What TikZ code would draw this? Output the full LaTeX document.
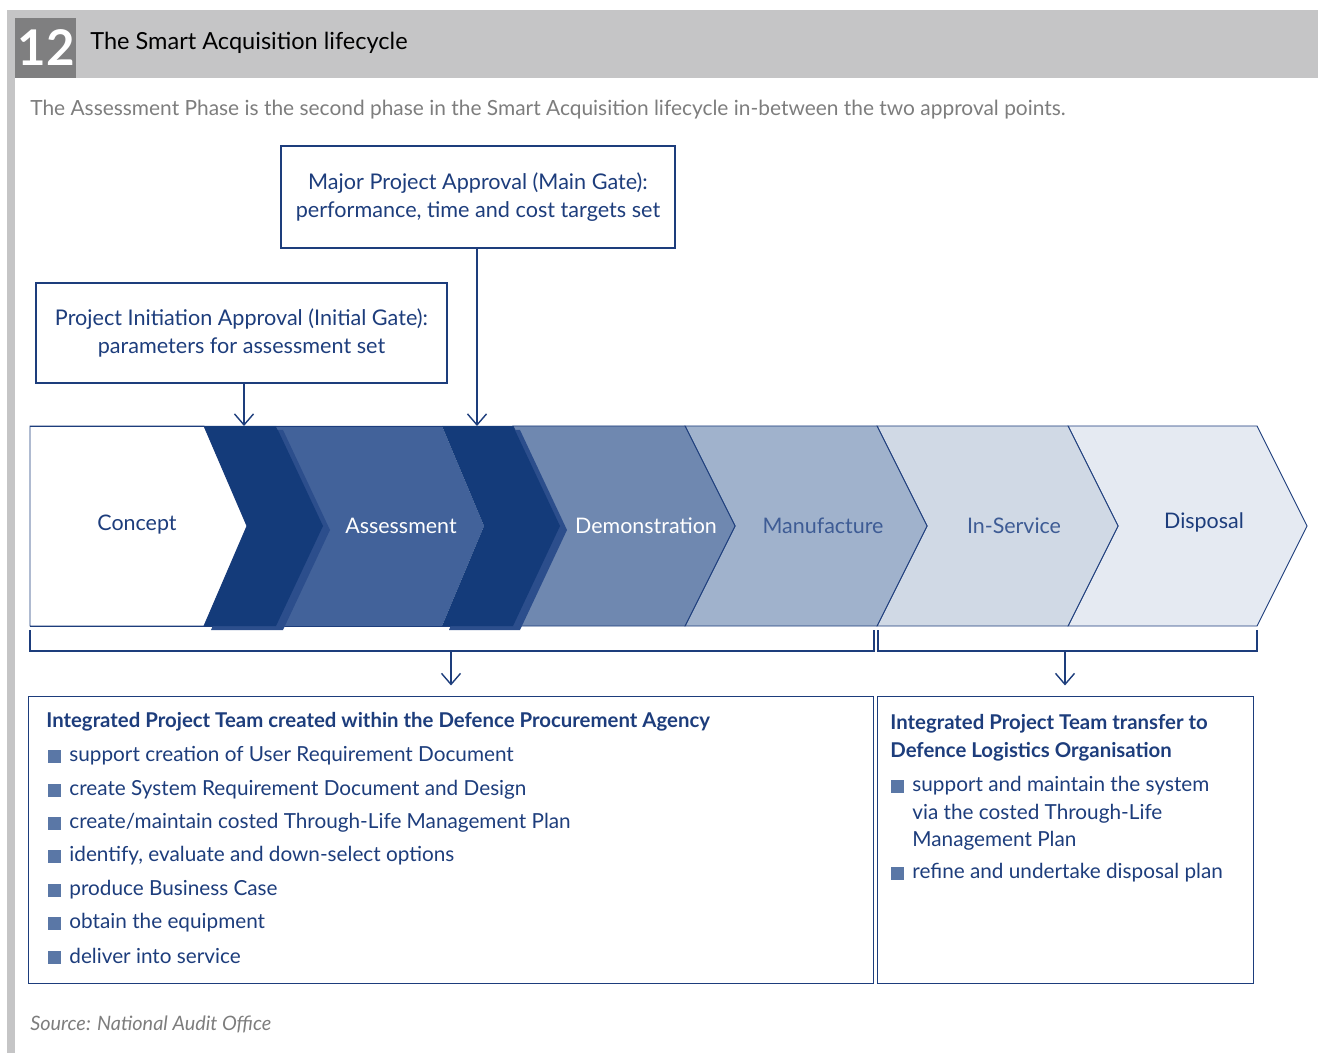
\documentclass[tikz,border=0pt]{standalone}
\usepackage{fontspec}
\setmainfont{Lato}
\usetikzlibrary{arrows.meta, positioning, calc}
\definecolor{navy}{HTML}{143B7A}
\definecolor{textblue}{HTML}{1D3D7C}
\definecolor{gateshade}{HTML}{2C4E8C}
\definecolor{assessblue}{HTML}{42629A}
\definecolor{demoblue}{HTML}{6F88B0}
\definecolor{manublue}{HTML}{A0B2CC}
\definecolor{serviceblue}{HTML}{D0D9E5}
\definecolor{disposalblue}{HTML}{E5EAF2}
\definecolor{midblue}{HTML}{3E5C95}
\definecolor{bulletblue}{HTML}{5A77A6}
\definecolor{bargray}{HTML}{C5C5C6}
\definecolor{numgray}{HTML}{7F7F80}
\definecolor{subgray}{HTML}{7D7D7D}

\newcommand{\blsq}{\textcolor{bulletblue}{\rule[-0.1ex]{7.4pt}{7.4pt}}\hspace{4.6pt}}
\newcommand{\blsqgap}{\hspace*{12pt}}

\tikzset{
	phase/.style={
			draw=textblue,
			line width=0.5pt
		},
	gate/.style={
			fill=navy
		},
	gateshadow/.style={
			fill=gateshade
		},
	approvalbox/.style={
			draw=textblue,
			line width=0.8pt,
			align=center,
			text=textblue,
			font=\fontsize{12.3}{15.9}\selectfont,
			inner sep=0pt
		},
	teambox/.style={
			draw=textblue,
			line width=0.8pt,
			inner sep=0pt
		},
	phaselabel/.style={
			font=\fontsize{12.2}{15}\selectfont,
			inner sep=0pt
		},
	teamtitle/.style={
			anchor=west,
			font=\fontsize{11.6}{15.9}\bfseries\selectfont,
			text=textblue,
			align=left,
			inner sep=0pt
		},
	item/.style={
			anchor=west,
			font=\fontsize{11.8}{15.6}\selectfont,
			text=textblue,
			align=left,
			inner sep=0pt
		},
	bracket/.style={
			draw=textblue,
			line width=0.8pt
		},
	down/.style={
			draw=textblue,
			line width=0.8pt,
			-{Straight Barb[length=2.2mm,width=3.8mm]}
		}
}

\begin{document}
\begin{tikzpicture}[x=0.02cm, y=-0.02cm]
	\useasboundingbox (0,0) rectangle (1318,1053);

	\fill[bargray] (7,10) rectangle (1318,78);
	\fill[bargray] (7,78) rectangle (15,1053);
	\fill[numgray] (15,18) rectangle (76,78);
	\node[inner sep=0pt, text=white, font=\fontsize{28}{28}\bfseries\selectfont] (fignum) at (46,48) {12};
	\node[anchor=west, inner sep=0pt, font=\fontsize{13.4}{16}\selectfont] (figtitle) at (90,43) {The Smart Acquisition lifecycle};
	\node[anchor=west, inner sep=0pt, text=subgray, font=\fontsize{11.9}{13}\selectfont] (subtitle) at (30,110) {The Assessment Phase is the second phase in the Smart Acquisition lifecycle in-between the two approval points.};

	\node[approvalbox, minimum width=7.88cm, minimum height=2.04cm] (maingate) at (478,197) {Major Project Approval (Main Gate):\\performance, time and cost targets set};
	\node[approvalbox, minimum width=8.22cm, minimum height=2cm] (initgate) at (241.5,333) {Project Initiation Approval (Initial Gate):\\parameters for assessment set};

	\coordinate (initpoint) at (244,426);
	\coordinate (mainpoint) at (477,426);

	\filldraw[phase, fill=disposalblue] (1068,426) -- (1257,426) -- (1307,526) -- (1257,626) -- (1068,626) -- (1118,526) -- cycle;
	\filldraw[phase, fill=serviceblue] (877,426) -- (1068,426) -- (1118,526) -- (1068,626) -- (877,626) -- (927,526) -- cycle;
	\filldraw[phase, fill=manublue] (685,426) -- (877,426) -- (927,526) -- (877,626) -- (685,626) -- (735,526) -- cycle;
	\filldraw[phase, fill=demoblue] (513,426) -- (685,426) -- (735,526) -- (685,626) -- (513,626) -- (560,526) -- cycle;
	\fill[assessblue] (276,426) -- (442,426) -- (484,526) -- (442,626) -- (276,626) -- (323,526) -- cycle;
	\filldraw[phase, fill=white] (30,426) -- (204,426) -- (247,526) -- (204,626) -- (30,626) -- cycle;
	\draw[phase] (30,426) -- (513,426) (30,626) -- (513,626);

	\fill[gateshadow] (211,430) -- (283,430) -- (330,530) -- (283,630) -- (211,630) -- (254,530) -- cycle;
	\fill[gate] (204,426) -- (276,426) -- (323,526) -- (276,626) -- (204,626) -- (247,526) -- cycle;
	\fill[gateshadow] (449,430) -- (520,430) -- (567,530) -- (520,630) -- (449,630) -- (490,530) -- cycle;
	\fill[gate] (442,426) -- (513,426) -- (560,526) -- (513,626) -- (442,626) -- (484,526) -- cycle;

	\node[phaselabel, text=textblue] (concept) at (137,525) {Concept};
	\node[phaselabel, text=white] (assessment) at (401,526) {Assessment};
	\node[phaselabel, text=white] (demonstration) at (646,526) {Demonstration};
	\node[phaselabel, text=midblue] (manufacture) at (823,526) {Manufacture};
	\node[phaselabel, text=midblue] (inservice) at (1014,526) {In-Service};
	\node[phaselabel, text=textblue] (disposal) at (1204,522) {Disposal};

	\draw[down] (initpoint |- initgate.south) -- (initpoint);
	\draw[down] (mainpoint |- maingate.south) -- (mainpoint);

	\draw[bracket] (30,630) -- (30,651) -- (874,651) -- (874,630);
	\draw[bracket] (878,630) -- (878,651) -- (1257,651) -- (1257,630);
	\coordinate (dpabrace) at (451,651);
	\coordinate (dlobrace) at (1065,651);

	\node[teambox, minimum width=16.9cm, minimum height=5.74cm, anchor=north west] (dpa) at (28,696) {};
	\node[teambox, minimum width=7.52cm, minimum height=5.74cm, anchor=north west] (dlo) at (877,696) {};

	\draw[down, shorten >=6pt] (dpabrace) -- (dpabrace |- dpa.north);
	\draw[down, shorten >=6pt] (dlobrace) -- (dlobrace |- dlo.north);

	\node[teamtitle] (dpatitle) at (46,722) {Integrated Project Team created within the Defence Procurement Agency};
	\node[item] (dpaone) at (48,756) {\blsq support creation of User Requirement Document};
	\node[item] (dpatwo) at (48,790) {\blsq create System Requirement Document and Design};
	\node[item] (dpathree) at (48,823) {\blsq create/maintain costed Through-Life Management Plan};
	\node[item] (dpafour) at (48,856) {\blsq identify, evaluate and down-select options};
	\node[item] (dpafive) at (48,890) {\blsq produce Business Case};
	\node[item] (dpasix) at (48,923) {\blsq obtain the equipment};
	\node[item] (dpaseven) at (48,956) {\blsq deliver into service};

	\node[teamtitle, anchor=north west] (dlotitle) at (890,714) {Integrated Project Team transfer to\\Defence Logistics Organisation};
	\node[item, anchor=north west] (dloone) at (891,776) {\blsq support and maintain the system\\\blsqgap via the costed Through-Life\\\blsqgap Management Plan};
	\node[item] (dlotwo) at (891,873) {\blsq refine and undertake disposal plan};

	\node[anchor=west, inner sep=0pt, text=subgray, font=\fontsize{11.3}{13}\itshape\selectfont] (source) at (30,1024) {Source: National Audit Office};
\end{tikzpicture}
\end{document}
